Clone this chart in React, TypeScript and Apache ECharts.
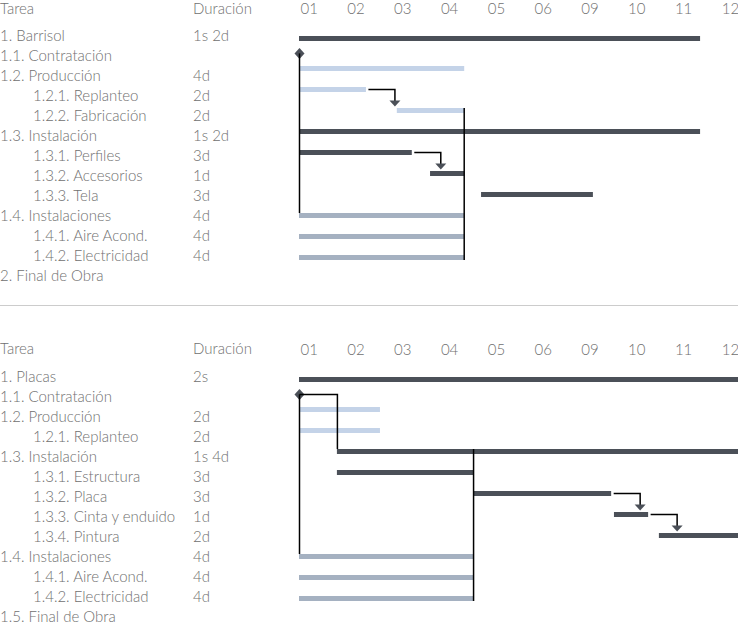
import { useEffect, useRef } from "react";
import * as echarts from "echarts";

// ---------- data ----------
const dayLabels = ["01", "02", "03", "04", "05", "06", "09", "10", "11", "12"];
const headers = ["Tarea", "Duración"];

// Panel 1 (Barrisol)
const tasksA = [
  "1. Barrisol", "1.1. Contratación", "1.2. Producción", "1.2.1. Replanteo", "1.2.2. Fabricación",
  "1.3. Instalación", "1.3.1. Perfiles", "1.3.2. Accesorios", "1.3.3. Tela",
  "1.4. Instalaciones", "1.4.1. Aire Acond.", "1.4.2. Electricidad", "2. Final de Obra",
];
const levelsA = [0, 0, 0, 1, 1, 0, 1, 1, 1, 0, 1, 1, 0];
const durA = ["1s 2d", "", "4d", "2d", "2d", "1s 2d", "3d", "1d", "3d", "4d", "4d", "4d", ""];
const startA = [0, 0, 0, 0, 2.09, 0, 0, 2.8, 3.89, 0, 0, 0, null];
const endA = [8.57, 0, 3.53, 1.43, 3.53, 8.57, 2.41, 3.53, 6.28, 3.53, 3.53, 3.53, null];
const kindA = ["sum", "ms", "prod", "prod", "prod", "sum", "sum", "sum", "sum", "inst", "inst", "inst", null];
// [type, from, to, (bottom)]
const linksA: any[] = [["elbow", 1, 9], ["fs", 3, 4], ["vline", 4, 4, 11], ["fs", 6, 7]];

// Panel 2 (Placas)
const tasksB = [
  "1. Placas", "1.1. Contratación", "1.2. Producción", "1.2.1. Replanteo", "1.3. Instalación",
  "1.3.1. Estructura", "1.3.2. Placa", "1.3.3. Cinta y enduido", "1.3.4. Pintura",
  "1.4. Instalaciones", "1.4.1. Aire Acond.", "1.4.2. Electricidad", "1.5. Final de Obra",
];
const levelsB = [0, 0, 0, 1, 0, 1, 1, 1, 1, 0, 1, 1, 0];
const durB = ["2s", "", "2d", "2d", "1s 4d", "3d", "3d", "1d", "2d", "4d", "4d", "4d", ""];
const startB = [0, 0, 0, 0, 0.81, 0.81, 3.73, 6.73, 7.69, 0, 0, 0, null];
const endB = [10, 0, 1.73, 1.73, 10, 3.73, 6.67, 7.46, 9.7, 3.73, 3.73, 3.73, null];
const kindB = ["sum", "ms", "prod", "prod", "sum", "sum", "sum", "sum", "sum", "inst", "inst", "inst", null];
const linksB: any[] = [["elbow", 1, 4], ["elbow", 1, 9], ["vline", 5, 4, 11], ["fs", 6, 7], ["fs", 7, 8]];

// ---------- layout ----------
const barLanes = [0.57, 1.28, 2, 3, 4, 5, 6, 7, 8, 9, 10, 11, 12];
const COLORS: Record<string, string> = { sum: "#4b5058", ms: "#4b5058", prod: "#c4d3e8", inst: "#a5b1c1" };
const KIND_CODES = ["sum", "ms", "prod", "inst"];
const LINK_CODES = ["elbow", "fs", "vline"];
const FONT = "Lato";
const FS = 15;
const TEXT_COLOR = "#707070";

function barData(start: any[], end: any[], kind: any[]) {
  const out: number[][] = [];
  start.forEach((s, i) => {
    if (s === null || kind[i] === null) return;
    out.push([s, end[i], barLanes[i], KIND_CODES.indexOf(kind[i])]);
  });
  return out;
}

function linkData(links: any[], start: any[], end: any[]) {
  return links.map((l) => {
    const [t, a, b, c] = l;
    if (t === "elbow") return [end[a], barLanes[a], start[b], barLanes[b], 0];
    if (t === "fs") return [end[a], barLanes[a], start[b], barLanes[b], 1];
    return [end[a], barLanes[b], end[a], barLanes[c], 2];
  });
}

const renderBar = (_p: any, api: any) => {
  const s = api.value(0), e = api.value(1), lane = api.value(2), k = api.value(3);
  const p0 = api.coord([s, lane]);
  const p1 = api.coord([e, lane]);
  if (KIND_CODES[k] === "ms") {
    const [x, y] = p0;
    return {
      type: "polygon",
      shape: { points: [[x + 0.5, y - 5.5], [x + 5.5, y], [x + 0.5, y + 5.5], [x - 4.5, y]] },
      style: { fill: COLORS.ms },
    };
  }
  return {
    type: "rect",
    shape: { x: p0[0], y: p0[1] - 2.5, width: p1[0] - p0[0], height: 5 },
    style: { fill: COLORS[KIND_CODES[k]] },
  };
};

const renderLink = (_p: any, api: any) => {
  const x1 = api.value(0), l1 = api.value(1), x2 = api.value(2), l2 = api.value(3), t = api.value(4);
  const a = api.coord([x1, l1]);
  const b = api.coord([x2, l2]);
  const line = { stroke: "#000", lineWidth: 1.5, fill: null };
  if (LINK_CODES[t] === "elbow") {
    return {
      type: "polyline",
      shape: { points: [[a[0] + 0.5, a[1]], [b[0] + 0.5, a[1]], [b[0] + 0.5, b[1] - 2.5]] },
      style: line,
    };
  }
  if (LINK_CODES[t] === "vline") {
    return {
      type: "line",
      shape: { x1: a[0], y1: a[1] - 2.5, x2: a[0], y2: b[1] + 2.5 },
      style: line,
    };
  }
  const cx = a[0] + 29;
  const tip = b[1] - 4;
  return {
    type: "group",
    children: [
      {
        type: "polyline",
        shape: { points: [[a[0] + 2.5, a[1]], [cx, a[1]], [cx, tip - 5]] },
        style: line,
      },
      {
        type: "polygon",
        shape: { points: [[cx - 5.5, tip - 6], [cx + 5.5, tip - 6], [cx, tip]] },
        style: { fill: COLORS.sum },
      },
    ],
  };
};

function labelFmt(levels: number[], names: string[]) {
  return (v: string, i: number) => {
    const idx = names.indexOf(v);
    return levels[idx >= 0 ? idx : i] === 1 ? `{s|${v}}` : `{p|${v}}`;
  };
}

const baseText = { fontFamily: FONT, fontWeight: 300, fontSize: FS, color: TEXT_COLOR };

function panel(gi: number, names: string[], levels: number[], durs: string[]) {
  const yAxes = [
    {
      gridIndex: gi, type: "category", data: names, inverse: true, position: "left",
      axisLine: { show: false }, axisTick: { show: false }, splitLine: { show: false },
      axisLabel: {
        ...baseText, interval: 0, align: "left", margin: 299,
        formatter: labelFmt(levels, names),
        rich: { s: { ...baseText, padding: [0, 0, 0, 33] }, p: { ...baseText } },
      },
    },
    {
      gridIndex: gi, type: "category", data: durs.map((d, i) => ({ value: d || " ".repeat(i + 1) })), inverse: true, position: "left",
      axisLine: { show: false }, axisTick: { show: false }, splitLine: { show: false },
      axisLabel: { ...baseText, interval: 0, align: "left", margin: 106, formatter: (v: string) => v.trim() },
    },
    {
      gridIndex: gi, type: "value", inverse: true, min: -0.0714, max: 12.3096, show: false,
    },
  ];
  const xAxis = {
    gridIndex: gi, type: "value", position: "top", min: 0, max: 10, interval: 1,
    axisLine: { show: false }, axisTick: { show: false }, splitLine: { show: false },
    axisLabel: {
      ...baseText, align: "left", margin: 10, padding: [0, 0, 0, 1.5],
      showMinLabel: true, showMaxLabel: true, hideOverlap: false,
      formatter: (v: number) => dayLabels[Math.round(v)] ?? "",
    },
  };
  return { yAxes, xAxis };
}

export default function App() {
  const ref = useRef<HTMLDivElement>(null);
  useEffect(() => {
    if (!ref.current) return;
    const chart = echarts.init(ref.current, undefined, { renderer: "svg" });
    const pA = panel(0, tasksA, levelsA, durA);
    const pB = panel(1, tasksB, levelsB, durB);
    const headerEls: any[] = [];
    [7.5, 347.5].forEach((y) => {
      headerEls.push({ type: "text", x: 0, y, style: { text: headers[0], font: `300 ${FS}px ${FONT}`, fill: TEXT_COLOR, verticalAlign: "middle" } });
      headerEls.push({ type: "text", x: 193, y, style: { text: headers[1], font: `300 ${FS}px ${FONT}`, fill: TEXT_COLOR, verticalAlign: "middle" } });
    });
    chart.setOption({
      animation: false,
      backgroundColor: "#fff",
      grid: [
        { left: 299, top: 25, width: 468, height: 260, outerBoundsMode: "none", containLabel: false },
        { left: 299, top: 366, width: 468, height: 260, outerBoundsMode: "none", containLabel: false },
      ],
      xAxis: [pA.xAxis, pB.xAxis],
      yAxis: [...pA.yAxes, ...pB.yAxes],
      graphic: [
        ...headerEls,
        { type: "line", shape: { x1: 0, y1: 305.5, x2: 738, y2: 305.5 }, style: { stroke: "#cccccc", lineWidth: 1 } },
      ],
      series: [
        { type: "custom", xAxisIndex: 0, yAxisIndex: 2, renderItem: renderBar, data: barData(startA, endA, kindA), encode: { x: [0, 1], y: 2 } },
        { type: "custom", xAxisIndex: 0, yAxisIndex: 2, renderItem: renderLink, data: linkData(linksA, startA, endA), encode: { x: [0, 2], y: [1, 3] } },
        { type: "custom", xAxisIndex: 1, yAxisIndex: 5, renderItem: renderBar, data: barData(startB, endB, kindB), encode: { x: [0, 1], y: 2 } },
        { type: "custom", xAxisIndex: 1, yAxisIndex: 5, renderItem: renderLink, data: linkData(linksB, startB, endB), encode: { x: [0, 2], y: [1, 3] } },
      ],
    });
    return () => chart.dispose();
  }, []);
  return <div ref={ref} style={{ position: "absolute", left: 0, top: 0, width: 738, height: 627 }} />;
}
